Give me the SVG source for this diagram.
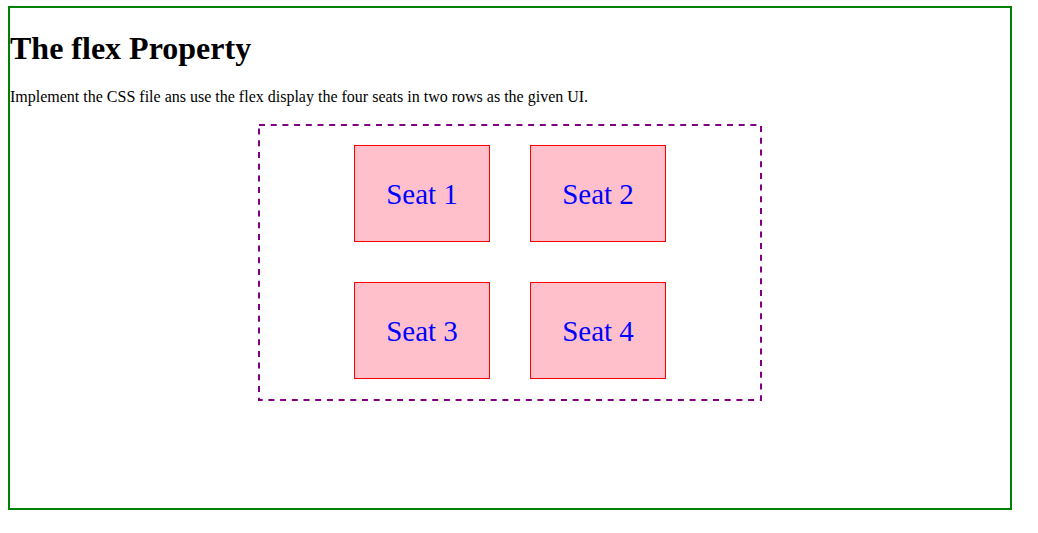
<svg xmlns="http://www.w3.org/2000/svg" width="1038" height="533" viewBox="0 0 1038 533">
<style>
.seat rect{fill:#ffc0cb;stroke:#ff0000;stroke-width:1}
.seat text{font-family:"Liberation Serif","Times New Roman",serif;font-size:29px;fill:#0000ff;text-anchor:middle}
</style>
<rect width="1038" height="533" fill="#ffffff"/>
<rect id="page" x="9" y="7" width="1002" height="502" fill="none" stroke="#008000" stroke-width="2"/>
<text id="title" x="10" y="59" font-family="Liberation Serif,'Times New Roman',serif" font-size="32" font-weight="bold" fill="#000">The flex Property</text>
<text id="desc" x="10" y="102" font-family="Liberation Serif,'Times New Roman',serif" font-size="16" fill="#000">Implement the CSS file ans use the flex display the four seats in two rows as the given UI.</text>
<rect id="container" x="259" y="125" width="502" height="275" fill="none" stroke="#800080" stroke-width="2" stroke-dasharray="6 5.7"/>
<g id="seat1" class="seat"><rect x="354.5" y="145.5" width="135" height="96"/><text x="422" y="204">Seat 1</text></g>
<g id="seat2" class="seat"><rect x="530.5" y="145.5" width="135" height="96"/><text x="598" y="204">Seat 2</text></g>
<g id="seat3" class="seat"><rect x="354.5" y="282.5" width="135" height="96"/><text x="422" y="341">Seat 3</text></g>
<g id="seat4" class="seat"><rect x="530.5" y="282.5" width="135" height="96"/><text x="598" y="341">Seat 4</text></g>
<g id="connectors"></g>
</svg>
